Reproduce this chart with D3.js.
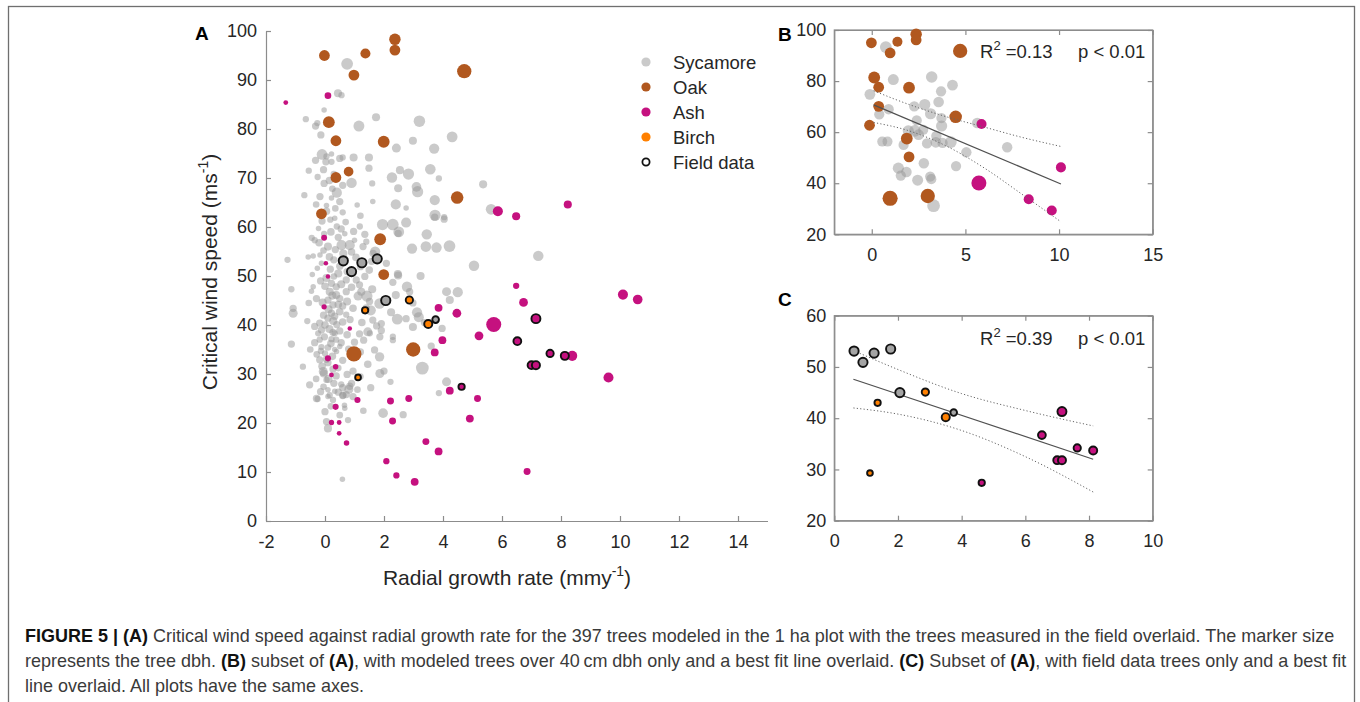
<!DOCTYPE html>
<html>
<head>
<meta charset="utf-8">
<script src="https://cdn.jsdelivr.net/npm/d3@7"></script>
<style>
  body { margin: 0; background: #fff; }
  svg { display: block; font-family: "Liberation Sans", Arial, Helvetica, sans-serif; }
</style>
</head>
<body>
<svg id="fig" width="1360" height="702"></svg>
<script>
// Each tree: [radial growth rate (mm/y), critical wind speed (m/s), dbh (cm)]
const sycamore = [
  // larger trees (dbh over 40 cm)
  [0.75,93.3,62],[-0.1,74.8,50],[0.4,67.0,44],[0.9,69.0,46],[0.56,56.3,42],[0.84,56.3,42],
  [1.15,80.6,52],[3.2,81.6,58],[2.27,70.1,46],[2.83,70.8,55],[3.14,67.2,55],[3.7,76.0,44],
  [4.31,78.4,50],[3.57,71.8,48],[2.4,64.6,44],[2.3,60.5,60],[2.5,59.0,50],[1.95,60.5,55],
  [3.72,65.5,44],[3.73,62.4,55],[3.45,58.5,46],[2.95,55.6,44],[3.42,56.0,48],[3.78,55.8,46],
  [4.22,56.1,62],[1.7,55.0,44],[5.05,52.1,46],[7.23,54.1,46],[5.63,63.6,48],[2.78,47.8,46],
  [1.42,45.9,55],[1.85,44.4,48],[1.55,43.0,44],[2.45,41.2,52],[3.12,42.6,44],[3.18,41.6,42],
  [4.5,46.7,44],[3.3,31.2,75],[2.75,60.9,42],
  // smaller trees
  [0.44,87.3,24],[0.56,86.9,12],[-0.03,83.9,8],[-0.65,82.0,12],[-0.32,80.6,18],[-0.26,81.2,12],
  [-0.14,78.8,18],[1.73,82.4,24],[2.98,77.6,24],[2.42,76.1,32],[-0.32,73.6,18],[0.05,74.4,12],
  [0.22,74.9,8],[0.03,73.3,18],[0.22,73.3,12],[0.5,74.0,18],[0.6,74.2,12],[0.97,74.2,24],
  [1.49,74.2,24],[1.49,72.0,18],[-0.03,68.9,18],[1.6,68.9,12],[2.54,71.6,24],[3.86,69.9,12],
  [3.1,68.2,38],[2.48,67.9,24],[-0.17,66.2,18],[0.22,65.9,8],[0.5,65.2,18],[1.09,64.5,8],
  [1.62,65.2,8],[2.75,63.9,8],[3.72,62.0,18],[4.04,62.0,12],[2.48,58.7,18],[1.18,60.1,12],
  [0.97,59.1,18],[0.4,60.1,12],[0.18,61.5,12],[0.33,61.8,8],[0.6,63.0,12],[0.05,64.4,8],
  [-0.22,59.7,8],[-0.03,58.6,12],[0.45,57.9,18],[0.67,58.6,8],[1.0,57.3,8],[1.4,57.0,12],
  [1.29,56.0,18],[3.24,50.0,24],[2.48,50.1,24],[2.08,52.6,18],[1.58,53.0,18],[1.63,54.6,18],
  [-0.17,54.3,8],[0.3,53.3,18],[-0.12,52.6,8],[-0.4,54.1,8],[-0.57,53.9,8],[-1.27,53.3,12],
  [0.5,52.0,18],[0.18,51.4,18],[-0.26,51.6,8],[-0.43,50.3,8],[5.36,68.7,24],[4.04,61.6,18],
  [-1.14,47.3,12],[-1.08,42.4,32],[-1.08,43.4,18],[-1.14,36.1,18],[-0.52,27.8,18],[-0.29,25.0,18],
  [-0.35,39.7,18],[-0.4,47.8,8],[-0.46,46.9,8],[-0.29,45.4,18],[-0.18,40.4,18],[-0.12,39.0,18],
  [-0.18,37.0,12],[-0.14,34.7,12],[0.05,33.0,18],[-0.04,30.1,24],[0.05,28.8,12],[0.1,26.8,8],
  [0.1,25.4,8],[0.05,20.3,18],[0.1,18.9,24],[0.59,8.5,8],[0.22,48.5,18],[0.38,47.8,18],
  [0.16,46.8,24],[0.38,46.1,24],[0.5,45.4,18],[0.1,45.1,18],[0.27,44.1,18],[0.6,43.9,18],
  [0.22,42.4,18],[0.1,41.4,18],[0.33,41.8,18],[0.72,42.1,12],[0.4,40.1,18],[0.27,38.5,18],
  [0.38,37.0,12],[0.33,35.0,8],[0.5,35.6,8],[0.1,32.3,18],[0.27,31.0,18],[0.38,29.6,18],
  [0.55,27.9,12],[0.6,27.2,18],[0.84,27.5,18],[0.6,25.6,18],[0.72,25.8,18],[0.95,25.4,18],
  [0.78,20.6,12],[0.33,26.5,8],[0.66,23.6,8],[0.72,46.8,18],[0.72,49.2,18],[1.06,49.2,18],
  [1.17,48.2,18],[1.23,46.8,24],[1.12,45.9,32],[1.51,44.8,18],[1.4,43.5,18],[1.62,41.0,18],
  [1.45,38.6,32],[1.17,38.2,18],[1.0,36.5,18],[1.31,36.9,18],[1.68,34.9,18],[1.85,33.5,36],
  [1.86,30.1,32],[1.91,38.9,18],[2.22,28.4,12],[1.97,22.0,38],[2.65,21.7,18],[2.3,36.9,12],
  [2.3,37.6,12],[2.24,42.6,24],[2.4,46.1,24],[2.47,50.4,24],[2.3,48.7,18],[2.87,46.8,18],
  [2.75,41.3,18],[2.98,39.6,24],[2.98,44.5,18],[3.37,40.5,18],[3.6,35.7,18],[3.97,39.3,18],
  [4.12,28.4,32],[3.86,26.1,12],[4.12,46.8,32],[4.23,45.1,24],
  [-0.35,36.4,18],[-0.12,35.5,12],[0.0,34.2,12],[0.39,34.6,8],[-0.18,32.9,18],[-0.06,30.5,32],
  [-0.15,26.4,18],[0.16,25.7,12],[-0.25,24.9,12],[0.27,24.7,12],[0.61,25.7,18],[0.81,26.9,32],
  [0.9,28.1,18],[0.67,23.0,8],[2.0,30.6,18],[1.86,37.6,18],[1.52,38.3,12],[1.91,40.3,18],
  [0.33,38.3,12],[0.22,37.1,12],[-0.23,38.3,12],
  // dense band of slow-growing trees
  [-0.2,56.8,20],[0.1,56.0,24],[0.35,55.4,18],[0.62,54.6,24],[0.9,54.9,20],[-0.05,55.2,14],
  [0.15,53.9,20],[0.45,50.5,24],[0.75,50.9,18],[0.05,49.6,24],[0.3,49.9,14],[-0.15,49.0,18],
  [0.55,48.3,24],[0.9,47.7,20],[0.0,47.9,20],[0.25,46.0,24],[-0.08,44.6,24],[0.45,44.2,20],
  [0.75,44.8,24],[0.95,43.4,20],[0.12,43.2,24],[0.5,42.7,20],[-0.05,42.0,18],[0.28,40.8,24],
  [0.6,40.6,20],[0.85,41.1,18],[0.0,40.0,20],[0.15,39.2,24],[0.5,38.8,18],[0.75,38.0,20],
  [-0.02,37.6,18],[0.2,36.2,20],[0.55,36.4,18],[0.1,35.4,14],[0.8,35.1,18],[-0.28,34.0,14],
  [0.25,33.6,20],[0.6,32.8,18],[-0.1,31.6,20],[0.45,31.2,14],[0.12,29.0,24],[0.75,29.9,18],
  [-0.3,29.0,14],[0.3,28.1,18],[0.95,30.6,18],[-0.05,27.4,14],[0.45,26.3,18],[0.2,23.4,14],
  [0.0,22.3,18],[0.5,21.6,14],
  [-0.05,71.7,18],[0.3,70.8,14],[0.15,69.5,20],[-0.25,70.2,12],[0.6,68.5,18],[0.25,67.8,14],
  [-0.3,64.6,14],[0.05,63.2,20],[0.35,63.8,14],[-0.1,61.2,18],[0.7,61.0,14],[0.55,59.6,18],
  [0.2,59.0,20],[-0.35,57.3,12],[1.2,62.3,14],[1.35,58.5,18],[1.5,51.2,20],[1.2,51.9,18],
  [1.05,53.8,20],[1.35,49.9,18],[1.6,47.3,24],[1.75,39.8,18],[1.25,40.5,20],[1.2,34.5,18],
  [1.45,32.0,20],[1.2,29.5,14],[1.55,27.2,18],[1.1,26.8,14],[1.3,22.5,14],[-0.55,44.5,14],
  [-0.6,40.8,12],[-0.5,35.0,14],[-0.75,31.5,12],[-0.45,57.8,12],[-0.7,66.5,12],[-0.55,71.5,12]
];

const oak = [
  [-0.02,95.0,50],[1.37,95.4,42],[2.37,98.3,58],[2.37,96.1,50],[0.98,91.0,50],[4.72,91.8,98],
  [0.13,81.4,62],[0.37,77.6,50],[1.99,77.4,62],[0.37,70.1,50],[0.8,71.3,38],[4.48,66.0,72],
  [-0.12,62.7,50],[1.87,57.5,62],[1.99,50.3,50],[0.98,34.1,112],[2.99,35.0,98]
];

const ash = [
  [-1.33,85.4,5],[0.1,86.8,14],[-0.03,57.8,10],[0.03,52.6,4],[0.1,49.9,4],[-0.03,43.7,7],
  [0.84,39.3,4],[0.1,33.2,11],[0.36,31.5,8],[0.22,29.8,5],[1.1,24.7,11],[0.36,23.3,11],
  [0.22,20.1,7],[0.48,20.1,5],[0.48,17.9,5],[0.73,15.9,8],[2.22,24.5,16],[2.29,20.4,16],
  [2.84,25.0,16],[2.08,12.2,12],[2.42,9.3,12],[3.04,8.0,22],[3.42,16.2,16],[3.85,14.2,22],
  [3.72,34.4,22],[3.98,36.9,22],[3.85,43.5,22],[4.47,42.4,30],[4.23,26.6,22],[4.91,20.9,22],
  [5.17,25.0,16],[5.22,37.8,30],[6.48,48.0,12],[6.73,44.6,30],[5.72,40.1,110],[8.38,33.7,42],
  [10.1,46.2,42],[10.6,45.2,38],[9.61,29.3,42],[6.85,10.1,16],[5.86,63.2,42],[6.48,62.2,24],
  [8.23,64.6,24]
];

// Trees measured in the field
const fieldSycamore = [[0.62,53.1,34],[0.9,50.9,34],[1.25,52.7,34],[1.77,53.5,34],[2.06,45.0,34],[3.75,41.1,14]];
const fieldBirch = [[1.36,43.0,12],[2.86,45.1,18],[3.5,40.2,24],[1.12,29.3,9]];
const fieldAsh = [[4.63,27.4,12],[6.52,36.7,22],[7.15,41.3,32],[7.63,34.2,18],[8.13,33.7,24],[7.0,31.8,22],[7.15,31.8,24]];

// Best fit lines and their confidence bounds
const fitBx = [0.1, 10.1], fitBy = [70.7, 39.7];
const bandBx = [0.1, 2, 4, 6, 8, 10.1];
const bandBUpper = [76.2, 70.8, 66.0, 62.0, 58.0, 54.4];
const bandBLower = [63.8, 60.5, 54.5, 46.0, 35.8, 24.9];
const fitCx = [0.6, 8.13], fitCy = [47.6, 32.0];
const bandCx = [0.6, 2, 4, 6, 8.13];
const bandCUpper = [53.2, 49.5, 44.8, 41.5, 38.5];
const bandCLower = [42.0, 40.8, 37.6, 32.5, 25.6];

const statB = ["0.13", "p < 0.01"];
const statC = ["0.39", "p < 0.01"];

const xTicksA = [-2, 0, 2, 4, 6, 8, 10, 12, 14];
const yTicksA = [0, 10, 20, 30, 40, 50, 60, 70, 80, 90, 100];
const xTicksB = [0, 5, 10, 15];
const yTicksB = [20, 40, 60, 80, 100];
const xTicksC = [0, 2, 4, 6, 8, 10];
const yTicksC = [20, 30, 40, 50, 60];

const legendNames = ["Sycamore", "Oak", "Ash", "Birch", "Field data"];

const colors = { sycamore: "#969696", oak: "#b1581f", ash: "#c5117f", birch: "#ff8000", fieldGrey: "#a4a4a4" };
const axisColor = "#8c8c8c";
const textColor = "#262626";

const svg = d3.select("#fig");
const rScale = d3.scaleSqrt().domain([0, 120]).range([1.0, 7.8]);

// outer figure frame
svg.append("rect").attr("x", 8.5).attr("y", 6.5).attr("width", 1346).attr("height", 740)
  .attr("fill", "none").attr("stroke", "#6f6f6f").attr("stroke-width", 1.3);

function styleAxis(sel, fs) {
  sel.select(".domain").attr("stroke", axisColor).attr("stroke-width", 1.2);
  sel.selectAll(".tick line").attr("stroke", axisColor).attr("stroke-width", 1.2);
  sel.selectAll(".tick text").attr("fill", textColor).attr("font-size", fs).attr("font-family", null);
}

function drawAxes(x, y, xt, yt, o) {
  const [x0, x1] = x.range();
  const [y0, y1] = y.range();
  const g = svg.append("g");
  if (o.box) {
    g.append("rect").attr("x", x0).attr("y", y1).attr("width", x1 - x0).attr("height", y0 - y1)
      .attr("fill", "none").attr("stroke", axisColor).attr("stroke-width", 1.2);
    g.append("g").attr("transform", `translate(0,${y1})`)
      .call(d3.axisTop(x).tickValues(xt).tickSize(-5).tickSizeOuter(0).tickFormat(""))
      .call(s => styleAxis(s, o.fs));
    g.append("g").attr("transform", `translate(${x1},0)`)
      .call(d3.axisRight(y).tickValues(yt).tickSize(-5).tickSizeOuter(0).tickFormat(""))
      .call(s => styleAxis(s, o.fs));
  }
  g.append("g").attr("transform", `translate(0,${y0})`)
    .call(d3.axisBottom(x).tickValues(xt).tickSize(-5).tickSizeOuter(0).tickPadding(o.xpad).tickFormat(d => String(d)))
    .call(s => styleAxis(s, o.fs));
  g.append("g").attr("transform", `translate(${x0},0)`)
    .call(d3.axisLeft(y).tickValues(yt).tickSize(-5).tickSizeOuter(0).tickPadding(o.ypad).tickFormat(d => String(d)))
    .call(s => styleAxis(s, o.fs));
  return g;
}

function drawTrees(g, data, x, y, fill, opacity, stroke) {
  g.selectAll(null).data(data).join("circle")
    .attr("cx", d => x(d[0])).attr("cy", d => y(d[1])).attr("r", d => rScale(d[2]))
    .attr("fill", fill).attr("fill-opacity", opacity)
    .attr("stroke", stroke ? "#111" : "none").attr("stroke-width", stroke ? 1.9 : 0);
}

function panelLetter(txt, x, y) {
  svg.append("text").attr("x", x).attr("y", y).text(txt)
    .attr("font-weight", "bold").attr("font-size", 19).attr("fill", "#000");
}

function statText(vals, x, baseline) {
  const t = svg.append("text").attr("x", x).attr("y", baseline).attr("font-size", 18.5).attr("fill", textColor);
  t.append("tspan").text("R");
  t.append("tspan").text("2").attr("font-size", 13).attr("dy", -8);
  t.append("tspan").text(" =" + vals[0]).attr("dy", 8);
  svg.append("text").attr("x", x + 98).attr("y", baseline).attr("font-size", 18.5).attr("fill", textColor).text(vals[1]);
}

const line = d3.line().curve(d3.curveMonotoneX);

// ---------- Panel A ----------
const xA = d3.scaleLinear().domain([-2, 15]).range([266, 767.5]);
const yA = d3.scaleLinear().domain([0, 100]).range([521, 31]);
drawAxes(xA, yA, xTicksA, yTicksA, { box: false, fs: 18, xpad: 14, ypad: 9 });

const gA = svg.append("g");
drawTrees(gA.append("g"), sycamore, xA, yA, colors.sycamore, 0.5, false);
drawTrees(gA.append("g"), oak, xA, yA, colors.oak, 1, false);
drawTrees(gA.append("g"), ash, xA, yA, colors.ash, 1, false);
drawTrees(gA.append("g"), fieldSycamore, xA, yA, colors.fieldGrey, 1, true);
drawTrees(gA.append("g"), fieldBirch, xA, yA, colors.birch, 1, true);
drawTrees(gA.append("g"), fieldAsh, xA, yA, colors.ash, 1, true);

panelLetter("A", 195, 40);

// axis titles
const xt = svg.append("text").attr("x", 507).attr("y", 585).attr("text-anchor", "middle")
  .attr("font-size", 21).attr("fill", textColor);
xt.append("tspan").text("Radial growth rate (mmy");
xt.append("tspan").text("-1").attr("font-size", 14).attr("dy", -9);
xt.append("tspan").text(")").attr("dy", 9);

const yt = svg.append("text").attr("transform", "translate(217,272) rotate(-90)").attr("text-anchor", "middle")
  .attr("font-size", 21).attr("fill", textColor);
yt.append("tspan").text("Critical wind speed (ms");
yt.append("tspan").text("-1").attr("font-size", 14).attr("dy", -9);
yt.append("tspan").text(")").attr("dy", 9);

// legend
const legendFills = [colors.sycamore, colors.oak, colors.ash, colors.birch, "none"];
const legendOpacity = [0.5, 1, 1, 1, 1];
const lg = svg.append("g");
legendNames.forEach((name, i) => {
  const cy = 62 + i * 25;
  lg.append("circle").attr("cx", 646).attr("cy", cy).attr("r", i === 4 ? 3.6 : 4.6)
    .attr("fill", legendFills[i]).attr("fill-opacity", legendOpacity[i])
    .attr("stroke", i === 4 ? "#111" : "none").attr("stroke-width", 1.8);
  lg.append("text").attr("x", 673).attr("y", cy + 6.5).attr("font-size", 18.5).attr("fill", textColor).text(name);
});

// ---------- Panel B ----------
const xB = d3.scaleLinear().domain([-2, 15]).range([834.3, 1152.7]);
const yB = d3.scaleLinear().domain([20, 100]).range([234.3, 30]);
drawAxes(xB, yB, xTicksB, yTicksB, { box: true, fs: 18, xpad: 14, ypad: 8 });
const big = d => d[2] > 40;
const gB = svg.append("g");
drawTrees(gB.append("g"), sycamore.filter(big), xB, yB, colors.sycamore, 0.5, false);
drawTrees(gB.append("g"), oak.filter(big), xB, yB, colors.oak, 1, false);
drawTrees(gB.append("g"), ash.filter(big), xB, yB, colors.ash, 1, false);
gB.append("path").attr("d", line(fitBx.map((v, i) => [xB(v), yB(fitBy[i])])))
  .attr("fill", "none").attr("stroke", "#505050").attr("stroke-width", 1.2);
[bandBUpper, bandBLower].forEach(b => {
  gB.append("path").attr("d", line(bandBx.map((v, i) => [xB(v), yB(b[i])])))
    .attr("fill", "none").attr("stroke", "#666").attr("stroke-width", 1).attr("stroke-dasharray", "1.2,2.2");
});
panelLetter("B", 778, 41);
statText(statB, 980, 58);

// ---------- Panel C ----------
const xC = d3.scaleLinear().domain([0, 10]).range([834.3, 1152.7]);
const yC = d3.scaleLinear().domain([20, 60]).range([520.7, 315.7]);
drawAxes(xC, yC, xTicksC, yTicksC, { box: true, fs: 18, xpad: 14, ypad: 8 });
const gC = svg.append("g");
gC.append("path").attr("d", line(fitCx.map((v, i) => [xC(v), yC(fitCy[i])])))
  .attr("fill", "none").attr("stroke", "#505050").attr("stroke-width", 1.2);
[bandCUpper, bandCLower].forEach(b => {
  gC.append("path").attr("d", line(bandCx.map((v, i) => [xC(v), yC(b[i])])))
    .attr("fill", "none").attr("stroke", "#666").attr("stroke-width", 1).attr("stroke-dasharray", "1.2,2.2");
});
drawTrees(gC.append("g"), fieldSycamore, xC, yC, colors.fieldGrey, 1, true);
drawTrees(gC.append("g"), fieldBirch, xC, yC, colors.birch, 1, true);
drawTrees(gC.append("g"), fieldAsh, xC, yC, colors.ash, 1, true);
panelLetter("C", 778, 306);
statText(statC, 980, 345);

// ---------- Caption ----------
const captionLines = [
  [["FIGURE 5 | (A)", true], [" Critical wind speed against radial growth rate for the 397 trees modeled in the 1 ha plot with the trees measured in the field overlaid. The marker size", false]],
  [["represents the tree dbh. ", false], ["(B)", true], [" subset of ", false], ["(A)", true], [", with modeled trees over 40\u2009cm dbh only and a best fit line overlaid. ", false], ["(C)", true], [" Subset of ", false], ["(A)", true], [", with field data trees only and a best fit", false]],
  [["line overlaid. All plots have the same axes.", false]]
];
const capBase = [642, 667, 692];
const capNodes = captionLines.map((parts, i) => {
  const t = svg.append("text").attr("x", 25).attr("y", capBase[i]).attr("font-size", 16);
  parts.forEach(([s, b]) => t.append("tspan").text(s)
    .attr("font-weight", b ? "bold" : "normal").attr("fill", b ? "#111" : "#3a3a3a"));
  return t;
});
const w0 = capNodes[0].node().getComputedTextLength();
const fsCap = 16 * 1310 / w0;
capNodes.forEach(t => t.attr("font-size", fsCap));
</script>
</body>
</html>
